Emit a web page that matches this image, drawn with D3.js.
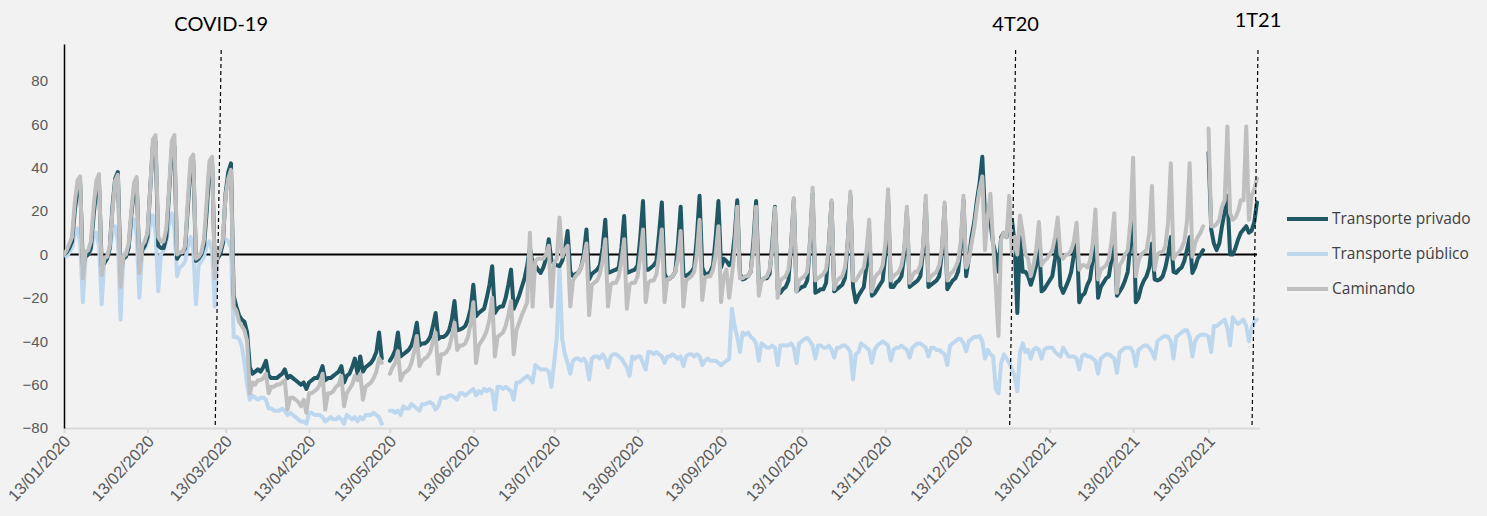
<!DOCTYPE html>
<html>
<head>
<meta charset="utf-8">
<script src="https://cdnjs.cloudflare.com/ajax/libs/d3/7.8.5/d3.min.js"></script>
<style>
  body { margin: 0; background: #f2f2f2; }
  svg { display: block; font-family: "Open Sans", Lato, sans-serif; }
</style>
</head>
<body>
<div id="chart"></div>
<script>
// daily values, one row per week (Mon..Sun), first day 13/01/2020
const startDate = "13/01/2020";

const transportePrivado = [
  0, 1, 3, 6, 20, 30, 33,
  -5, -1, 0, 3, 18, 30, 33,
  -5, -4, -2, 3, 22, 35, 38,
  -8, -2, -1, 3, 18, 30, 33,
  -5, 2, 4, 8, 30, 50, 52,
  4, 3, 3, 8, 28, 48, 50,
  -2, 0, 1, 3, 22, 40, 43,
  -3, -2, 0, 4, 20, 40, 42,
  -6, -2, 0, 5, 28, 38, 42,
  -19, -24, -28, -30, -31, -36, -52,
  -55, -54, -53, -54, -52, -49, -56,
  -57, -57, -57, -56, -55, -53, -57,
  -56, -57, -58, -59, -60, -59, -62,
  -59, -58, -57, -57, -55, -51.5, -58,
  -57, -57, -56, -55, -54, -51.5, -59,
  -56, -55, -52, -48, -55, -47, -54,
  -52, -51, -50, -48, -45, -36, -48,
  null, null, -49, -47, -44, -36, -47,
  -46, -45, -44, -42, -38, -31.5, -42,
  -41, -41, -40, -38, -33, -27, -39,
  -38, -38, -37, -35, -30, -21.5, -35,
  -34.6, -34, -33, -30, -25, -14, -28.5,
  -27, -26, -25, -20, -14, -5.4, -27,
  -25, -24, -24, -20, -14, -7, -25,
  -22, -19, -15, -11, -5, 3, -4,
  -5, -7, -8.5, -6, -2, 7, -3,
  -4, -5, -5.4, -3, 2, 10.8, -8,
  -10, -9, -8.5, -6, 0, 11.5, -11.5,
  -9, -8, -7, -5, 3, 16, -8.5,
  -8, -7.5, -7, -6, 3, 17.7, -8.5,
  -8, -7.5, -7, -5, 8, 24.6, -7,
  -7, -6, -5, -3, 10, 24, -9,
  -11.5, -11, -10, -8, 5, 22, -9,
  -10, -9, -8, -6, 8, 27, -6,
  -9, -9, -8, -5, 8, 24.6, -6,
  -2, -3, -5, -3, 8, 25, -9,
  -11.5, -11, -10, -8, 6, 24.6, -13,
  -12, -11, -11, -9, 5, 22, -16,
  -17.7, -16, -15, -12, 4, 25, -17,
  -16, -15, -14.6, -12, 5, 28, -17.7,
  -17, -16, -16, -13, 4, 24, -17,
  -16, -15, -14, -11, 5, 27, -15,
  -22, -19, -17, -15, -5, 10, -19,
  -18, -16, -14, -12, 0, 26, -15,
  -15, -13, -12, -10, 0, 20, -15,
  -14, -13, -12, -10, 2, 24, -15,
  -14, -13, -12, -10, 1, 22, -16,
  -14, -12, -11, -8, 3, 25, -10,
  -2, 8, 15, 25, 33, 45, 18,
  20, 15, 5, 0, -8, 8, 10,
  8, 14, 16, 5, -27, 8, -8,
  -8, -10, -14, -10, -5, 8, -17,
  -16, -14, -12, -10, -2, 10, -14.6,
  -17.7, -15, -12, -8, 0, 10, -22,
  -19, -18, -14, -11.5, -2, 8, -20,
  -15, -13, -11, -10, -2, 10, -19,
  -17, -15, -12, -8, 5, 24, -22,
  -20, -15, -12, -10, -6, 5, -11.5,
  -12, -11.5, -10, -6, 0, 8, -8,
  -8.5, -7, -6, -3, 2, 8, -8.5,
  -6, -2, 0, 2, null, 47, 11.5,
  5, 2, 5, 13, 20, 27, 0,
  0, 3, 7, 10, 11.5, 13, 10,
  11, 15, 24
];

const transportePublico = [
  0, -1, 1, 3, 10, 12, 5,
  -22, -1, 0, 2, 8, 10, 4,
  -23, -2, -1, 2, 10, 13, 6,
  -30, 0, 1, 4, 12, 16, 8,
  -20, 1, 3, 6, 14, 18, 10,
  -17, 0, 2, 6, 14, 19, 12,
  -10, -6, -5, -3, 4, 8, 2,
  -23, -5, -3, -1, 4, 6, 2,
  -24, 0, 1, 5, 7, 6, 3,
  -38, -38, -39, -42, -50, -60, -67,
  -65, -66, -67, -66, -66, -67, -71,
  -71, -72, -72, -72, -71, -72, -74,
  -73, -74, -75, -76, -77, -77, -78,
  -73, -73, -74, -74, -74, -75, -77,
  -76, -75, -76, -76, -75, -76, -78,
  -74, -75, -76, -75, -77, -75, -76,
  -74, -74, -74, -73, -74, -75, -78,
  null, null, -72, -72, -73, -72, -74,
  -70, -71, -71, -69, -70, -71, -72,
  -69, -69, -68.5, -68, -69, -71.5, -70,
  -66, -66, -66, -65, -65, -66, -67,
  -64, -64, -65, -64, -63, -62, -65,
  -63, -64, -62, -63, -62, -63, -71.5,
  -61, -61, -62, -61, -62, -63, -67,
  -59, -59, -58, -57, -56, -57, -59,
  -51, -52, -53, -53, -53, -54, -61,
  -50, -38, -5, -39, -46, -50, -55,
  -49, -48, -48, -49, -48, -50, -57.6,
  -48, -47, -47, -48, -46, -48, -52,
  -47, -46, -46, -47, -48, -50, -52,
  -56, -47, -48, -47, -47, -50, -53,
  -45, -45, -46, -45, -46, -47, -50,
  -47, -47, -46, -47, -48, -47, -51.5,
  -47, -46, -46, -47, -46, -47, -51,
  -49, -48, -49, -49, -49, -50, -51,
  -50, -49, -48, -25, -33, -38, -45,
  -36, -37, -36, -38, -39, -41, -49,
  -41, -42, -43, -43, -42, -43, -51,
  -42, -42, -42, -42, -41, -43, -50,
  -41, -40, -39, -38.4, -40, -42, -48,
  -42, -42, -43, -43, -42, -44, -47.6,
  -43, -43, -42, -42, -43, -45, -57.6,
  -46, -45, -41, -42, -43, -44, -50,
  -44, -42, -41, -40, -41, -42, -49,
  -44, -43, -43, -42, -43, -44, -47.6,
  -43, -42, -41, -41, -42, -43, -47,
  -43, -43, -44, -44, -45, -46, -51,
  -42, -41, -40, -39, -39, -41, -44.6,
  -40, -39, -38, -38, -37.6, -40, -48,
  -44, -46, -47, -62, -64, -50, -46,
  -48, -50, -53, -56, -63, -45, -41,
  -45, -44, -48, -44, -43, -44, -48,
  -44, -43, -43, -43, -45, -46, -47,
  -43, -45, -47, -47, -47, -48, -53,
  -47, -46, -47, -47, -48, -49, -55,
  -48, -47, -46, -46, -47, -48, -54.6,
  -45, -44, -43, -43, -43, -45, -51.5,
  -44, -43, -42, -42, -43, -45, -48,
  -40, -39, -38, -37.6, -38, -40, -48,
  -38, -37, -36, -35, -35, -38, -47,
  -40, -38, -37, -37, -37, -38, -45,
  -33, -33, -32, -31, -30, -34, -42,
  -29, -31, -32, -31, -30, -33, -40,
  -34, -31, -30
];

const caminando = [
  0, 2, 5, 8, 24, 34, 36,
  -11, 1, 2, 6, 22, 34, 37,
  -9.5, -2, -1, 4, 20, 34, 36.7,
  -15, -1, 0, 5, 20, 33, 35.6,
  -8.5, 4, 6, 10, 30, 53, 55,
  8, 6, 6, 12, 30, 52, 55,
  0, 1, 1, 4, 25, 44, 46,
  -2, -1, 1, 7, 25, 43, 45,
  -11, -1, 2, 7, 27, 35, 39,
  -24, -26, -31, -33, -35, -40, -64,
  -59, -60, -58, -58, -57, -55, -64,
  -61, -61, -60, -60, -59, -58, -71.5,
  -66, -66, -67, -68, -70, -67, -73,
  -64, -64, -63, -62, -60, -55, -71.5,
  -64, -64, -63, -61, -60, -56, -70,
  -64, -62, -60, -56, -58, -55, -67,
  -61, -60, -59, -57, -54, -48, -50,
  null, null, -55, -52, -50, -44.6, -58,
  -55, -54, -53, -50, -45, -37.6, -51.5,
  -49, -48, -47, -45, -40, -36, -55,
  -46, -46, -45, -43, -38, -31.5, -44,
  -42, -42, -41, -38, -32, -22, -50,
  -42, -40, -38, -35, -30, -20, -47,
  -38, -37, -36, -33, -28, -21.5, -46,
  -35, -31.5, -28, -25, -22, 10, -24,
  -3, -2, -2, -2, 0, 4, -24,
  -4, -2, 17, -1, 2, 4, -24,
  -12, -10, -8.5, -6, -2, 5, -28,
  -14, -13, -12, -9, -3, 7, -24,
  -14, -13, -13, -10, -3, 7, -25,
  -14, -13, -13, -10, -1, 11.5, -22,
  -13, -12, -12, -9, 0, 11.5, -22,
  -11.5, -11, -10, -8, -2, 10.8, -24,
  -12, -11, -10, -8, 0, 16, -21,
  -11, -10, -10, -7, 0, 13, -22,
  -10, -7, -20, -10, 2, 22, -11,
  -11, -10, -10, -8, 2, 22, -19,
  -12, -11, -10, -7, 2, 21.5, -20,
  -12, -11, -10, -7, 4, 26, -17,
  -12, -11, -10, -8, 6, 30.7, -12,
  -11, -10, -9, -7, 4, 25, -16,
  -12, -11, -10, -6, 5, 29, -12,
  -12, -10, -8, -6, 2, 16, -17,
  -11, -9, -8, -5, 5, 30, -12,
  -10, -9, -8, -5, 3, 22, -13,
  -10, -8, -8, -5, 4, 27, -12,
  -10, -9, -8, -5, 3, 24, -12,
  -9, -8, -6, -3, 6, 27, -6,
  -3, 5, 12, 22, 30, 36, 2,
  18, 28, 5, -15, -37.6, 7, 10,
  8, 27, 0, 8, 0, 18, 10,
  0, -2, -10, -5, 2, 15, -5,
  -3, -2, 0, 2, 8, 17, 0,
  -2, 0, 0, 2, 6, 14.6, -7,
  -5, -5, -6, -3, 5, 20.7, -11.5,
  -7, -6, -5, -2, 6, 19, -17.7,
  -5, -3, 0, 2, 15, 44.6, -10,
  -3, 0, 1, 2, 10, 31.5, -7,
  0, 1, 1, 4, 15, 42, -2,
  0, 1, 3, 6, 15, 42, -1,
  5, 8, 10, 13, null, 58, 13,
  13, 14, 16, 22, 25, 59, 19,
  16, 17, 20, 25, 25, 59, 16,
  27, 30, 35
];

const seriesNames = ["Transporte privado", "Transporte público", "Caminando"];
const seriesColors = ["#1f5864", "#bdd7ee", "#bfbfbf"];
const yTicks = [-80, -60, -40, -20, 0, 20, 40, 60, 80];
const xTickLabels = ["13/01/2020", "13/02/2020", "13/03/2020", "13/04/2020", "13/05/2020",
  "13/06/2020", "13/07/2020", "13/08/2020", "13/09/2020", "13/10/2020", "13/11/2020",
  "13/12/2020", "13/01/2021", "13/02/2021", "13/03/2021"];
const markerLabels = ["COVID-19", "4T20", "1T21"];
const markerDates = ["11/03/2020", "31/12/2020", "31/03/2021"];

const visualize = function() {
    const config = {
        width: 1487,
        height: 516,
        left: 64,
        right: 1257,
        top: 44,
        bottom: 428,
        lineWidth: 4
    };

    const parse = d3.timeParse("%d/%m/%Y");
    const start = parse(startDate);
    const rows = transportePrivado.map((v, i) => ({
        date: d3.timeDay.offset(start, i),
        values: [transportePrivado[i], transportePublico[i], caminando[i]]
    }));

    const svg = d3.select("#chart")
        .append("svg")
        .attr("width", config.width)
        .attr("height", config.height);

    svg.append("rect")
        .attr("width", config.width)
        .attr("height", config.height)
        .attr("fill", "#f2f2f2");

    const xScale = d3.scaleTime()
        .domain([start, parse("31/03/2021")])
        .range([config.left, config.right]);

    const yScale = d3.scaleLinear()
        .domain([-80, 97])
        .range([config.bottom, config.top]);

    svg.append("defs").append("clipPath")
        .attr("id", "plot")
        .append("rect")
        .attr("x", config.left)
        .attr("y", config.top)
        .attr("width", config.right - config.left + 6)
        .attr("height", config.bottom - config.top);

    // x axis (light grey with month ticks)
    const bottomAxis = d3.axisBottom(xScale)
        .tickValues(xTickLabels.map(parse))
        .tickFormat(d3.timeFormat("%d/%m/%Y"))
        .tickSize(5)
        .tickSizeOuter(0);

    const xAxis = svg.append("g")
        .attr("transform", `translate(0, ${config.bottom})`)
        .call(bottomAxis);
    xAxis.select(".domain")
        .attr("d", `M${config.left},0.5H${config.right + 3}`)
        .attr("stroke", "#d9d9d9")
        .attr("stroke-width", 2);
    xAxis.selectAll(".tick line").attr("stroke", "#d9d9d9").attr("stroke-width", 2);
    xAxis.selectAll(".tick text")
        .attr("y", 0)
        .attr("dy", 0)
        .attr("text-anchor", "end")
        .attr("transform", "translate(7,14) rotate(-47)")
        .style("font-size", "16.5px")
        .style("fill", "#595959");

    // y axis
    const yAxis = svg.append("g")
        .attr("transform", `translate(${config.left}, 0)`)
        .call(d3.axisLeft(yScale).tickValues(yTicks).tickSize(0).tickPadding(16).tickSizeOuter(0));
    yAxis.select(".domain").attr("stroke", "#000").attr("stroke-width", 1.5);
    yAxis.selectAll(".tick text")
        .style("font-size", "15px")
        .style("fill", "#595959");

    // zero line
    svg.append("line")
        .attr("x1", config.left)
        .attr("x2", config.right)
        .attr("y1", yScale(0))
        .attr("y2", yScale(0))
        .attr("stroke", "#000")
        .attr("stroke-width", 2);

    const plot = svg.append("g").attr("clip-path", "url(#plot)");
    const drawOrder = [1, 0, 2];
    drawOrder.forEach(k => {
        const line = d3.line()
            .defined(d => d.values[k] !== null)
            .x(d => xScale(d.date))
            .y(d => yScale(d.values[k]));
        plot.append("path")
            .datum(rows)
            .attr("d", line)
            .style("fill", "none")
            .style("stroke", seriesColors[k])
            .style("stroke-width", config.lineWidth)
            .style("stroke-linejoin", "round")
            .style("stroke-linecap", "round");
    });

    // dashed markers, slightly leaning like the drawn shapes
    markerDates.forEach((m, i) => {
        const xm = xScale(parse(m));
        svg.append("line")
            .attr("x1", xm + 1)
            .attr("y1", 50)
            .attr("x2", xm - 5)
            .attr("y2", config.bottom)
            .attr("stroke", "#000")
            .attr("stroke-width", 1.2)
            .attr("stroke-dasharray", "4,3");
        svg.append("text")
            .attr("x", xm + 1)
            .attr("y", i === 2 ? 27 : 31)
            .attr("text-anchor", "middle")
            .style("font-family", "Lato, sans-serif")
            .style("font-size", "20px")
            .style("fill", "#000")
            .text(markerLabels[i]);
    });

    // legend
    const legend = svg.append("g").attr("transform", "translate(1287, 219)");
    seriesNames.forEach((name, i) => {
        const g = legend.append("g").attr("transform", `translate(0, ${i * 35})`);
        g.append("line")
            .attr("x1", 0).attr("x2", 41)
            .attr("stroke", seriesColors[i])
            .attr("stroke-width", config.lineWidth);
        g.append("text")
            .attr("x", 45)
            .attr("dy", "0.35em")
            .style("font-size", "15.5px")
            .style("fill", "#404040")
            .text(name);
    });
};

visualize();
</script>
</body>
</html>
